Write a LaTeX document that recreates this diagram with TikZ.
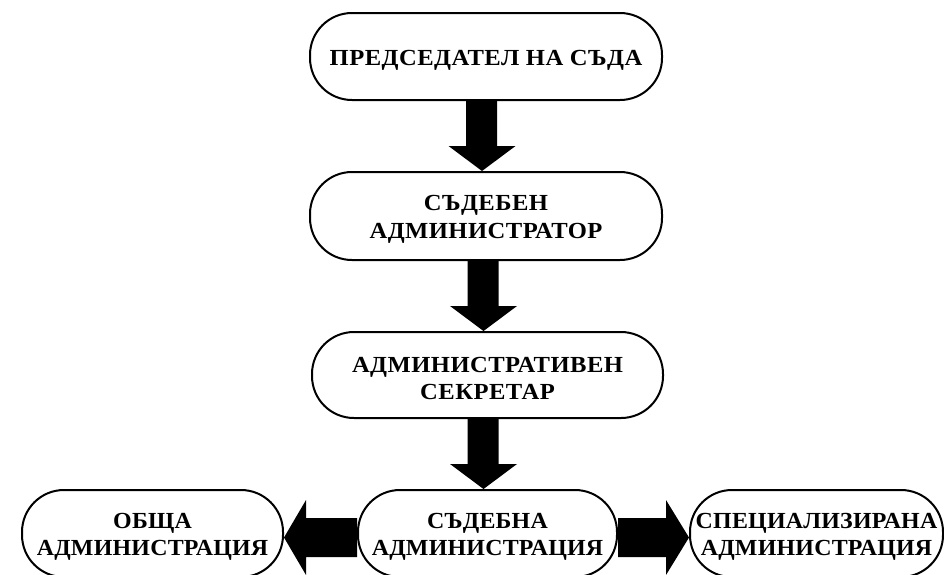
\documentclass[tikz,border=0pt]{standalone}
\usepackage{fontspec}
\setmainfont{Liberation Serif}[BoldFeatures={FakeStretch=1.07, LetterSpace=2}]
\newfontfamily\rowfont{Liberation Serif}[BoldFeatures={FakeStretch=1.04, LetterSpace=1}]
\usetikzlibrary{calc}
\tikzset{
  box/.style={draw=black, line width=2pt, rounded corners=42pt, inner sep=0pt, text=black},
  boxtext/.style={align=center, font=\fontsize{23}{27.5}\selectfont\bfseries, text=black, inner sep=0pt, yshift=-3.5pt},
  rowtext/.style={boxtext, font=\fontsize{23}{27.5}\selectfont\rowfont\bfseries},
  bigarrow/.style={fill=black, draw=none}
}
\begin{document}
\begin{tikzpicture}[x=1pt,y=-1pt]
\useasboundingbox (0,0) rectangle (944,574);
\clip (0,0) rectangle (944,574);
\node[box, minimum width=352pt, minimum height=87pt, label={[boxtext]center:ПРЕДСЕДАТЕЛ НА СЪДА}] (pres) at (486,56.5) {};
\node[box, minimum width=352pt, minimum height=88pt, label={[boxtext]center:СЪДЕБЕН\\АДМИНИСТРАТОР}] (sadm) at (486,216) {};
\node[box, minimum width=351pt, minimum height=86pt, label={[boxtext]center:АДМИНИСТРАТИВЕН\\СЕКРЕТАР}] (sekr) at (487.5,375) {};
\node[box, minimum width=259pt, minimum height=87pt, label={[rowtext]center:СЪДЕБНА\\АДМИНИСТРАЦИЯ}] (sadmin) at (487.5,533.5) {};
\node[box, minimum width=261pt, minimum height=87pt, label={[rowtext]center:ОБЩА\\АДМИНИСТРАЦИЯ}] (obsta) at (152.5,533.5) {};
\node[box, minimum width=253pt, minimum height=87pt, label={[rowtext]center:СПЕЦИАЛИЗИРАНА\\АДМИНИСТРАЦИЯ}] (spec) at (816.5,533.5) {};
% vertical arrows (tip 4pt left of the lower box centre)
\newcommand{\downarrowfill}[2]{%
  \fill[bigarrow] ($(#1.south -| #2.north)+(-20,0)$) -- ($(#2.north)+(-20,-25)$) -- ($(#2.north)+(-37.5,-25)$)
    -- ($(#2.north)+(-4,0)$) -- ($(#2.north)+(29.5,-25)$) -- ($(#2.north)+(11,-25)$)
    -- ($(#1.south -| #2.north)+(11,0)$) -- cycle;}
\downarrowfill{pres}{sadm}
\downarrowfill{sadm}{sekr}
\downarrowfill{sekr}{sadmin}
% horizontal arrows
\fill[bigarrow] ($(sadmin.west)+(0,-15.5)$) -- ($(obsta.east)+(22,-15.5)$) -- ($(obsta.east)+(22,-33.5)$)
  -- ($(obsta.east)+(0,4)$) -- ($(obsta.east)+(22,41.5)$) -- ($(obsta.east)+(22,23.5)$)
  -- ($(sadmin.west)+(0,23.5)$) -- cycle;
\fill[bigarrow] ($(sadmin.east)+(0,-15.5)$) -- ($(spec.west)+(-23,-15.5)$) -- ($(spec.west)+(-23,-33.5)$)
  -- ($(spec.west)+(0,4)$) -- ($(spec.west)+(-23,41.5)$) -- ($(spec.west)+(-23,23.5)$)
  -- ($(sadmin.east)+(0,23.5)$) -- cycle;
\end{tikzpicture}
\end{document}
